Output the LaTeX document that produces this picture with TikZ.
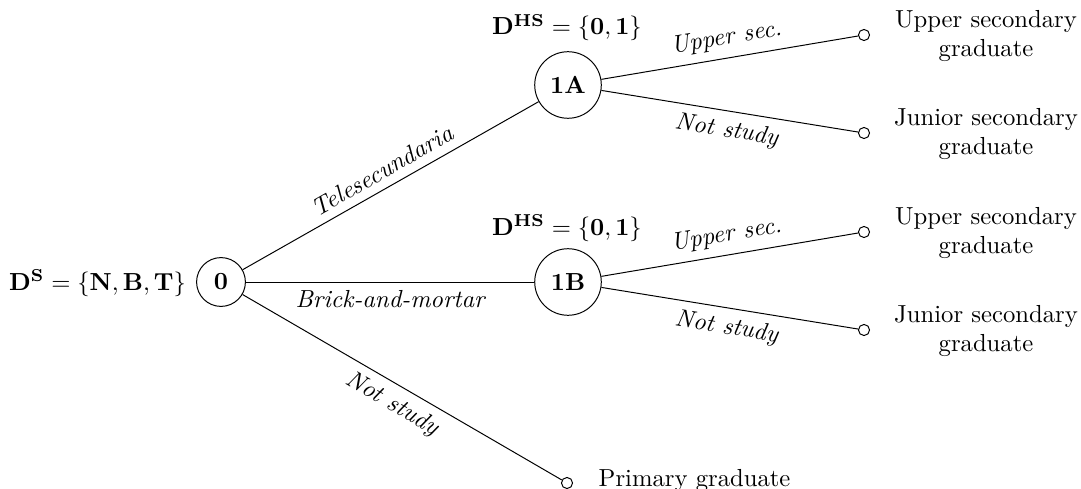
\documentclass[tikz,border=0pt]{standalone}
\begin{document}
\begin{tikzpicture}[x=0.014253cm,y=-0.014253cm,
  decision/.style={circle,draw,font=\bfseries,inner sep=0pt},
  leaf/.style={circle,draw,inner sep=0pt,minimum size=4.5pt},
  edgelab/.style={font=\itshape,midway,sloped},
  outcome/.style={align=center},
  setlab/.style={inner sep=1pt}]
\useasboundingbox (0,0) rectangle (1081,489);
% decision nodes
\node[decision,minimum size=19.8pt] (n0) at (221,282) {0};
\node[decision,minimum size=27pt] (n1a) at (568,85) {1A};
\node[decision,minimum size=27pt] (n1b) at (568,282) {1B};
% choice sets
\node[setlab,anchor=base east] (ds) at (189,290) {$\mathbf{D^{S}}=\{\mathbf{N},\mathbf{B},\mathbf{T}\}$};
\node[setlab,anchor=base] (dhsa) at (567,35) {$\mathbf{D^{HS}}=\{\mathbf{0},\mathbf{1}\}$};
\node[setlab,anchor=base] (dhsb) at (567,235) {$\mathbf{D^{HS}}=\{\mathbf{0},\mathbf{1}\}$};
% leaves
\node[leaf] (la1) at (864,35) {};
\node[leaf] (la2) at (864,133) {};
\node[leaf] (lb1) at (864,232) {};
\node[leaf] (lb2) at (864,330) {};
\node[leaf] (lp) at (567,483) {};
% outcomes
\node[outcome] (oa1) at (986,36) {Upper secondary\\graduate};
\node[outcome] (oa2) at (986,134) {Junior secondary\\graduate};
\node[outcome] (ob1) at (986,233) {Upper secondary\\graduate};
\node[outcome] (ob2) at (986,331) {Junior secondary\\graduate};
\node[anchor=base west] (op) at (590,486) {Primary graduate};
% edges
\draw (n0) -- node[edgelab,above]{Telesecundaria} (n1a);
\draw (n0) -- node[edgelab,below]{Brick-and-mortar} (n1b);
\draw (n0) -- node[edgelab,below]{Not study} (lp);
\draw (n1a) -- node[edgelab,above]{Upper sec.} (la1);
\draw (n1a) -- node[edgelab,below]{Not study} (la2);
\draw (n1b) -- node[edgelab,above]{Upper sec.} (lb1);
\draw (n1b) -- node[edgelab,below]{Not study} (lb2);
\end{tikzpicture}
\end{document}
